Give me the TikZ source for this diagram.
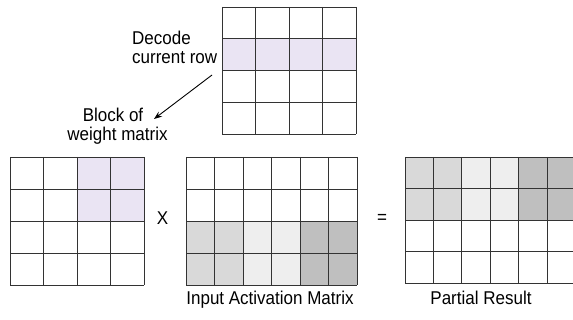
\documentclass[tikz,border=0pt]{standalone}
\usepackage{fontspec}
\setmainfont{Liberation Sans}
\usetikzlibrary{arrows.meta}
\definecolor{lav}{HTML}{EAE4F3}
\definecolor{gmed}{HTML}{D9D9D9}
\definecolor{glight}{HTML}{EEEEEE}
\definecolor{gdark}{HTML}{BFBFBF}
\newcommand\matgrid[6]{%
  \foreach \i in {0,...,#3} \draw[gridline] ({#1+\i*#5},#2) -- ({#1+\i*#5},{#2+#4*#6});
  \foreach \j in {0,...,#4} \draw[gridline] (#1,{#2+\j*#6}) -- ({#1+#3*#5},{#2+\j*#6});
}
\newcommand\talltxt[1]{\scalebox{1}[1.09]{#1}}
\begin{document}
\begin{tikzpicture}[x=1pt,y=-1pt,
  gridline/.style={draw=black!80,line width=0.9pt},
  lbl/.style={inner sep=0pt,font=\fontsize{17}{19}\selectfont},
  arr/.style={-{Stealth[length=8pt,width=6pt]},line width=0.9pt}]
\useasboundingbox (0,0) rectangle (573,320);
% top matrix (weight row)
\fill[lav] (222,38.75) rectangle (356,70.5);
\matgrid{222}{7}{4}{4}{33.5}{31.75}
% left matrix (weight block)
\fill[lav] (77,157) rectangle (144,221);
\matgrid{10}{157}{4}{4}{33.5}{32}
% middle matrix (input activation)
\fill[gmed] (186,221) rectangle (243,285);
\fill[glight] (243,221) rectangle (300,285);
\fill[gdark] (300,221) rectangle (357,285);
\matgrid{186}{157}{6}{4}{28.5}{32}
% right matrix (partial result)
\fill[gmed] (405,157) rectangle (461.8,220.2);
\fill[glight] (461.8,157) rectangle (518.6,220.2);
\fill[gdark] (518.6,157) rectangle (575.4,220.2);
\matgrid{405}{157}{6}{4}{28.4}{31.6}
% labels
\node[lbl,anchor=base west] (dec) at (132,45) {\talltxt{Decode}};
\node[lbl,anchor=base west] (cur) at (132,63.5) {\talltxt{current row}};
\node[lbl,anchor=base] (blk) at (113,121.5) {\talltxt{Block of}};
\node[lbl,anchor=base] (wm) at (117.5,140.5) {\talltxt{weight matrix}};
\node[lbl,anchor=base] (times) at (162.5,225) {\talltxt{X}};
\node[lbl,anchor=base] (eq) at (382,224) {\talltxt{=}};
\node[lbl,anchor=base] (ia) at (270,305) {\talltxt{Input Activation Matrix}};
\node[lbl,anchor=base] (pr) at (481,305) {\talltxt{Partial Result}};
% arrow
\coordinate (arrS) at (212,75);
\coordinate (arrE) at (154,119);
\draw[arr] (arrS) -- (arrE);
\end{tikzpicture}
\end{document}
